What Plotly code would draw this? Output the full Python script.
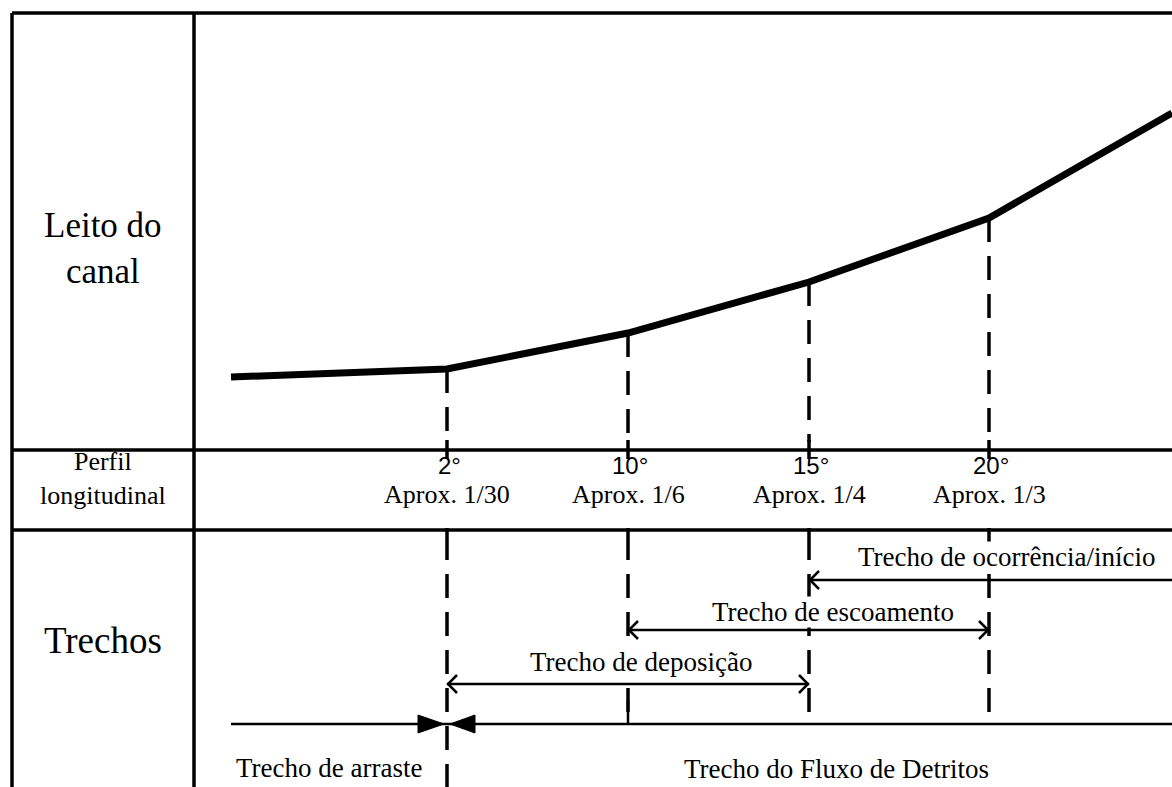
import plotly.graph_objects as go

W, H = 1172, 787

# ---- data (diagram coordinates in a 1172 x 787 space, y downward) ----
profile_x = [231, 447, 628, 809, 989, 1172]          # channel-bed vertices (distance)
profile_y = [377, 369, 333, 282, 218, 113]           # channel-bed vertices (height, inverted)
break_x = [447, 628, 809, 989]                       # slope break points
break_y = [369, 333, 282, 218]
break_end_y = [787, 724, 724, 724]
angle_labels = ["2°", "10°", "15°", "20°"]
slope_labels = ["Aprox. 1/30", "Aprox. 1/6", "Aprox. 1/4", "Aprox. 1/3"]
row_labels = ["Leito do<br>canal", "Perfil<br>longitudinal", "Trechos"]
row_label_y = [248, 478, 640]
reach_names = ["Trecho de ocorrência/início", "Trecho de escoamento", "Trecho de deposição"]
reach_x0 = [809, 628, 447]
reach_x1 = [1172, 989, 809]
reach_y = [580, 630, 684]
reach_label_x = [1006, 833, 641]
reach_label_y = [557, 612, 662]
reach_heads = [("left",), ("left", "right"), ("left", "right")]
bottom_y = 724
bottom_x = [231, 1172]
bottom_split_x = 447
bottom_names = ["Trecho de arraste", "Trecho do Fluxo de Detritos"]
bottom_label_x = [329, 836]
bottom_label_y = [768, 769]

# table frame
frame_left, frame_div, frame_right = 12, 194, 1172
frame_top, row1_y, row2_y = 13, 450, 530

SERIF = "Liberation Serif, Times New Roman, serif"
SANS = "Liberation Sans, Arial, sans-serif"
DASH = "24px,14px"

fig = go.Figure()

shapes = []
def line(x0, y0, x1, y1, w=3.5, dash=None, color="black"):
    d = dict(type="line", xref="x", yref="y", x0=x0, y0=y0, x1=x1, y1=y1,
             line=dict(color=color, width=w))
    if dash:
        d["line"]["dash"] = dash
    shapes.append(d)

# frame
line(frame_left, frame_top, frame_right, frame_top, 3.5)
line(frame_left, frame_top, frame_left, H, 3.5)
line(frame_div, frame_top, frame_div, H, 3.5)
line(frame_left, row1_y, frame_right, row1_y, 3.5)
line(frame_left, row2_y, frame_right, row2_y, 3.5)

# dashed verticals: through the bed row, short ticks at the profile row, then the reach row
for bx, by, ey in zip(break_x, break_y, break_end_y):
    line(bx, by, bx, row1_y - 8, 3.5, dash=DASH)
    line(bx, row1_y - 10, bx, row1_y + 9, 3.5)
    line(bx, row2_y - 2, bx, row2_y + 6, 3.5)
    line(bx, row2_y + 6, bx, ey, 3.5, dash=DASH)
# the 10° line meets the bottom reach line with a short solid tick
line(break_x[1], bottom_y - 24, break_x[1], bottom_y, 2.5)

# reach arrows
for x0, x1, y, heads in zip(reach_x0, reach_x1, reach_y, reach_heads):
    line(x0, y, x1, y, 2.5)
    if "left" in heads:
        shapes.append(dict(type="path", xref="x", yref="y",
                           path=f"M {x0+10},{y-9} L {x0+1},{y} L {x0+10},{y+9}",
                           line=dict(color="black", width=2.5)))
    if "right" in heads:
        shapes.append(dict(type="path", xref="x", yref="y",
                           path=f"M {x1-10},{y-9} L {x1-1},{y} L {x1-10},{y+9}",
                           line=dict(color="black", width=2.5)))

# bottom line with converging filled triangles
line(bottom_x[0], bottom_y, bottom_x[1], bottom_y, 2.5)
sx = bottom_split_x
shapes.append(dict(type="path", xref="x", yref="y",
                   path=f"M {sx-29},{bottom_y-9} L {sx-3},{bottom_y} L {sx-29},{bottom_y+9} Z",
                   fillcolor="black", line=dict(color="black", width=1)))
shapes.append(dict(type="path", xref="x", yref="y",
                   path=f"M {sx+28},{bottom_y-9} L {sx+3},{bottom_y} L {sx+28},{bottom_y+9} Z",
                   fillcolor="black", line=dict(color="black", width=1)))

# channel bed profile
fig.add_trace(go.Scatter(x=profile_x, y=profile_y, mode="lines",
                         line=dict(color="black", width=7), hoverinfo="skip",
                         showlegend=False))

ann = []
def text(x, y, s, size, family=SERIF, bg=None):
    d = dict(x=x, y=y, xref="x", yref="y", text=s, showarrow=False,
             xanchor="center", yanchor="middle", borderpad=0,
             font=dict(family=family, size=size, color="black"))
    if bg:
        d["bgcolor"] = bg
    ann.append(d)

row_centre_x = (frame_left + frame_div) / 2
text(row_centre_x, row_label_y[0], row_labels[0], 35)
text(row_centre_x, row_label_y[1], row_labels[1], 26)
text(row_centre_x, row_label_y[2], row_labels[2], 37)

for bx, a, s in zip(break_x, angle_labels, slope_labels):
    text(bx + 2, 465, a, 24, SANS)
    text(bx, 494, s, 26)

for nm, lx, ly in zip(reach_names, reach_label_x, reach_label_y):
    text(lx, ly, nm, 27, bg="white")
for nm, lx, ly in zip(bottom_names, bottom_label_x, bottom_label_y):
    text(lx, ly, nm, 27)

fig.update_layout(
    width=W, height=H, margin=dict(l=0, r=0, t=0, b=0),
    paper_bgcolor="white", plot_bgcolor="white",
    xaxis=dict(range=[0, W], visible=False, fixedrange=True),
    yaxis=dict(range=[H, 0], visible=False, fixedrange=True),
    shapes=shapes, annotations=ann, showlegend=False,
)

fig.write_html("out.html", config={"displayModeBar": False},
               post_script="document.body.style.margin='0';document.body.style.overflow='hidden';")
